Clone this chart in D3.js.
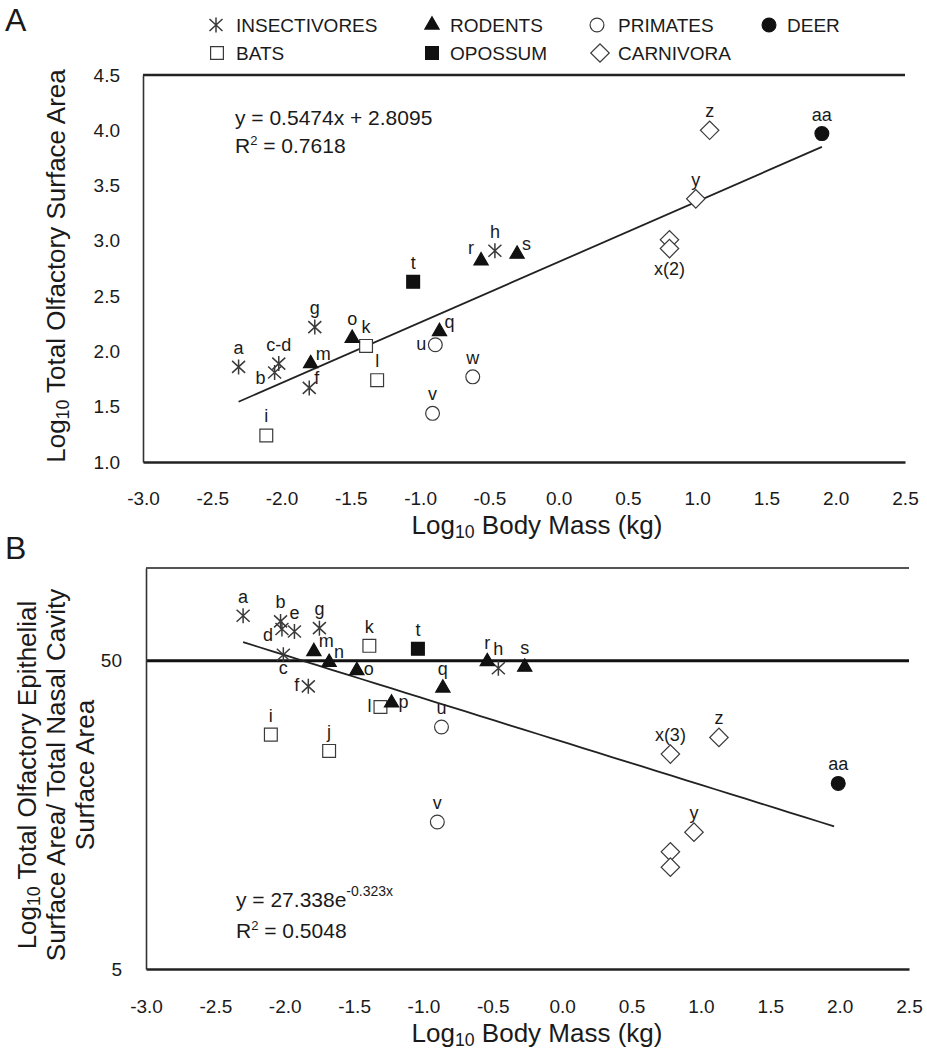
<!DOCTYPE html>
<html><head><meta charset="utf-8">
<script src="https://cdn.jsdelivr.net/npm/d3@7"></script>
<style>
body{margin:0;background:#fff}
svg{display:block}
text{font-family:"Liberation Sans",Arial,sans-serif;fill:#1a1a1a}
</style>
</head><body>
<svg id="chart" width="927" height="1050"></svg>
<script>
// ---------------- DATA ----------------
const groups = ["INSECTIVORES","BATS","RODENTS","OPOSSUM","PRIMATES","CARNIVORA","DEER"];
const xTicks = [-3.0,-2.5,-2.0,-1.5,-1.0,-0.5,0.0,0.5,1.0,1.5,2.0,2.5];
const yTicksA = [1.0,1.5,2.0,2.5,3.0,3.5,4.0,4.5];
const yTicksB = [5,50];

// Panel A
const labelsA = ["a","b","c-d","f","g","h","i","k","l","m","o","q","r","s","t","u","v","w","","x(2)","y","z","aa"];
const groupA  = ["INSECTIVORES","INSECTIVORES","INSECTIVORES","INSECTIVORES","INSECTIVORES","INSECTIVORES",
                 "BATS","BATS","BATS","RODENTS","RODENTS","RODENTS","RODENTS","RODENTS","OPOSSUM",
                 "PRIMATES","PRIMATES","PRIMATES","CARNIVORA","CARNIVORA","CARNIVORA","CARNIVORA","DEER"];
const massA   = [-2.31,-2.05,-2.02,-1.80,-1.76,-0.46,-2.11,-1.39,-1.31,-1.79,-1.49,-0.86,-0.56,-0.30,-1.05,-0.89,-0.91,-0.62,0.80,0.80,0.99,1.09,1.90];
const areaA   = [1.86,1.81,1.89,1.67,2.22,2.91,1.24,2.05,1.74,1.89,2.12,2.18,2.82,2.88,2.63,2.06,1.44,1.77,3.01,2.93,3.38,4.00,3.97];
const slopeA = 0.5474, interceptA = 2.8095, r2A = "0.7618";

// Panel B
const labelsB = ["a","b","d","e","g","c","f","h","i","j","k","l","m","n","o","p","q","r","s","t","u","v","x(3)","","","y","z","aa"];
const groupB  = ["INSECTIVORES","INSECTIVORES","INSECTIVORES","INSECTIVORES","INSECTIVORES","INSECTIVORES","INSECTIVORES","INSECTIVORES",
                 "BATS","BATS","BATS","BATS","RODENTS","RODENTS","RODENTS","RODENTS","RODENTS","RODENTS","RODENTS","OPOSSUM",
                 "PRIMATES","PRIMATES","CARNIVORA","CARNIVORA","CARNIVORA","CARNIVORA","CARNIVORA","DEER"];
const massB   = [-2.30,-2.03,-2.02,-1.93,-1.75,-2.01,-1.83,-0.46,-2.10,-1.68,-1.39,-1.31,-1.79,-1.68,-1.48,-1.23,-0.86,-0.54,-0.27,-1.04,-0.87,-0.90,0.78,0.78,0.78,0.95,1.13,1.99];
const ratioB  = [70.0,67.1,63.4,62.2,63.8,52.3,41.3,47.3,28.8,25.5,55.9,35.4,53.6,49.4,46.5,36.5,40.8,49.7,47.7,54.7,30.5,15.0,24.9,12.0,10.7,13.9,28.2,20.0];
const coefB = 27.338, expB = -0.323, r2B = "0.5048";

// ---------------- STYLE ----------------
const svg = d3.select("#chart");
const INK = "#1a1a1a", MK = "#3a3a3a";
const markerStyle = {
  INSECTIVORES:{shape:"ast", fill:"none", stroke:MK},
  BATS:{shape:"square", fill:"#fff", stroke:MK},
  RODENTS:{shape:"triangle", fill:"#111", stroke:"#111"},
  OPOSSUM:{shape:"square", fill:"#111", stroke:"#111"},
  PRIMATES:{shape:"circle", fill:"#fff", stroke:MK},
  CARNIVORA:{shape:"diamond", fill:"#fff", stroke:MK},
  DEER:{shape:"circle", fill:"#111", stroke:"#111"}
};
function markerPath(shape){
  if(shape==="ast") return "M0,-7.5L0,7.5M-6.5,-6L6.5,6M-6.5,6L6.5,-6";
  if(shape==="square") return d3.symbol(d3.symbolSquare, 164)();
  if(shape==="triangle") return d3.symbol(d3.symbolTriangle, 88)();
  if(shape==="circle") return d3.symbol(d3.symbolCircle, 150)();
  if(shape==="diamond") return d3.symbol(d3.symbolSquare, 170)();
}
function drawMarker(g, grp, x, y){
  const st = markerStyle[grp];
  const p = g.append("path").attr("d", markerPath(st.shape))
    .attr("fill", st.fill).attr("stroke", st.stroke)
    .attr("stroke-width", st.shape==="ast"?1.5:1.2)
    .attr("transform", `translate(${x},${y})` + (st.shape==="diamond"?" rotate(45)":""));
}
function logTitle(t, rest, size){
  t.append("tspan").text("Log");
  t.append("tspan").attr("font-size", size*0.68).attr("dy", 4).text("10");
  t.append("tspan").attr("dy", -4).text(" " + rest);
}
function supText(t, base, sup, rest, supSize, lift){
  t.append("tspan").text(base);
  t.append("tspan").attr("font-size", supSize).attr("dy", -lift).text(sup);
  if(rest) t.append("tspan").attr("dy", lift).text(rest);
}
const labelOffset = {
  t:{a:"middle",dx:0,dy:-13}, b:{a:"middle",dx:0,dy:19}, bd:{a:"middle",dx:0,dy:26},
  bl:{a:"end",dx:-9,dy:12}, tr:{a:"start",dx:5,dy:-4}, l:{a:"end",dx:-9,dy:5},
  r:{a:"start",dx:7,dy:5}, tl:{a:"end",dx:-7,dy:-7}
};
function drawLabels(g, labels, xs, ys, xS, yS, pos){
  labels.forEach((lab,i)=>{
    if(!lab) return;
    const o = labelOffset[pos[lab]||"t"];
    g.append("text").attr("x", xS(xs[i])+o.dx).attr("y", yS(ys[i])+o.dy)
      .attr("text-anchor", o.a).attr("font-size", 18).text(lab);
  });
}
function styleAxis(g){
  g.selectAll("text").attr("font-size", 19).attr("fill", INK);
  g.selectAll(".tick line").remove();
}

// ---------------- PANEL A ----------------
const xA = d3.scaleLinear([-3,2.5],[143,905]);
const yA = d3.scaleLinear([1,4.5],[462,75]);
const gA = svg.append("g");

gA.append("text").attr("x",5).attr("y",31).attr("font-size",32).text("A");

// legend
const legendPos = {
  INSECTIVORES:[216,25], RODENTS:[432,25], PRIMATES:[597,25], DEER:[769,25],
  BATS:[217,53], OPOSSUM:[432,53], CARNIVORA:[600,53]
};
const legendTextX = {INSECTIVORES:236, RODENTS:450, PRIMATES:618, DEER:787, BATS:236, OPOSSUM:450, CARNIVORA:618};
groups.forEach(gr=>{
  const [mx,my] = legendPos[gr];
  drawMarker(gA, gr, mx, my);
  gA.append("text").attr("x", legendTextX[gr]).attr("y", my+7).attr("font-size",19).text(gr);
});

// frame lines
gA.append("line").attr("x1",xA.range()[0]).attr("x2",xA.range()[1]).attr("y1",yA(4.5)).attr("y2",yA(4.5))
  .attr("stroke","#222").attr("stroke-width",2.5);
const axA_y = gA.append("g").attr("transform",`translate(${xA.range()[0]},0)`)
  .call(d3.axisLeft(yA).tickValues(yTicksA).tickFormat(d3.format(".1f")).tickSizeOuter(0).tickPadding(17));
axA_y.select(".domain").attr("stroke","#333").attr("stroke-width",1.6);
styleAxis(axA_y);
const axA_x = gA.append("g").attr("transform",`translate(0,${yA(1)})`)
  .call(d3.axisBottom(xA).tickValues(xTicks).tickFormat(d3.format(".1f")).tickSizeOuter(0).tickPadding(24));
axA_x.select(".domain").attr("stroke","#222").attr("stroke-width",2.5);
styleAxis(axA_x);
axA_x.selectAll("text").text(d=>d3.format(".1f")(d).replace("−","-"));

// titles
logTitle(gA.append("text").attr("x",537).attr("y",534).attr("text-anchor","middle").attr("font-size",26), "Body Mass (kg)", 26);
logTitle(gA.append("text").attr("transform","translate(65,266) rotate(-90)").attr("text-anchor","middle").attr("font-size",26), "Total Olfactory Surface Area", 26);

// trendline
const extA = d3.extent(massA);
gA.append("line").attr("x1",xA(extA[0])).attr("y1",yA(slopeA*extA[0]+interceptA))
  .attr("x2",xA(extA[1])).attr("y2",yA(slopeA*extA[1]+interceptA))
  .attr("stroke","#222").attr("stroke-width",1.8);

// equation
gA.append("text").attr("x",235).attr("y",125).attr("font-size",21).text(`y = ${slopeA}x + ${interceptA}`);
supText(gA.append("text").attr("x",235).attr("y",153).attr("font-size",21), "R","2"," = "+r2A, 13, 8);

// points
massA.forEach((m,i)=>drawMarker(gA, groupA[i], xA(m), yA(areaA[i])));
drawLabels(gA, labelsA, massA, areaA, xA, yA, {b:"bl", f:"tr", m:"tr", q:"tr", u:"l", r:"tl", s:"tr", "x(2)":"bd"});

// ---------------- PANEL B ----------------
const xB = d3.scaleLinear([-3,2.5],[146,909]);
const yB = d3.scaleLog([5,100],[969,568]);
const gB = svg.append("g");

gB.append("text").attr("x",5).attr("y",559).attr("font-size",32).text("B");

gB.append("line").attr("x1",xB.range()[0]).attr("x2",xB.range()[1]).attr("y1",yB(100)).attr("y2",yB(100))
  .attr("stroke","#555").attr("stroke-width",2);
gB.append("line").attr("x1",xB.range()[0]).attr("x2",xB.range()[1]).attr("y1",yB(50)).attr("y2",yB(50))
  .attr("stroke","#111").attr("stroke-width",3);
const axB_y = gB.append("g").attr("transform",`translate(${xB.range()[0]},0)`)
  .call(d3.axisLeft(yB).tickValues(yTicksB).tickFormat(d3.format("d")).tickSizeOuter(0).tickPadding(18));
axB_y.select(".domain").attr("stroke","#333").attr("stroke-width",1.6);
styleAxis(axB_y);
const axB_x = gB.append("g").attr("transform",`translate(0,${yB(5)})`)
  .call(d3.axisBottom(xB).tickValues(xTicks).tickFormat(d3.format(".1f")).tickSizeOuter(0).tickPadding(25));
axB_x.select(".domain").attr("stroke","#222").attr("stroke-width",2.5);
styleAxis(axB_x);
axB_x.selectAll("text").text(d=>d3.format(".1f")(d).replace("−","-"));

logTitle(gB.append("text").attr("x",537).attr("y",1042).attr("text-anchor","middle").attr("font-size",26), "Body Mass (kg)", 26);
logTitle(gB.append("text").attr("transform","translate(36,775) rotate(-90)").attr("text-anchor","middle").attr("font-size",26), "Total Olfactory Epithelial", 26);
gB.append("text").attr("transform","translate(65,775) rotate(-90)").attr("text-anchor","middle").attr("font-size",26).text("Surface Area/ Total Nasal Cavity");
gB.append("text").attr("transform","translate(94,775) rotate(-90)").attr("text-anchor","middle").attr("font-size",26).text("Surface Area");

// trendline (exponential fit, straight on log axis)
const extB = d3.extent(massB);
const fitB = x => coefB*Math.exp(expB*x);
gB.append("path").datum(d3.range(0,41).map(k=>extB[0]+(extB[1]-0.03-extB[0])*k/40))
  .attr("d", d3.line().x(d=>xB(d)).y(d=>yB(fitB(d))))
  .attr("fill","none").attr("stroke","#222").attr("stroke-width",1.8);

supText(gB.append("text").attr("x",236).attr("y",907).attr("font-size",21), `y = ${coefB}e`, `${expB}x`, null, 14, 11);
supText(gB.append("text").attr("x",236).attr("y",938).attr("font-size",21), "R","2"," = "+r2B, 13, 8);

massB.forEach((m,i)=>drawMarker(gB, groupB[i], xB(m), yB(ratioB[i])));
drawLabels(gB, labelsB, massB, ratioB, xB, yB, {d:"bl", c:"b", f:"l", m:"tr", n:"tr", o:"r", l:"l", p:"r"});
</script>
</body></html>
